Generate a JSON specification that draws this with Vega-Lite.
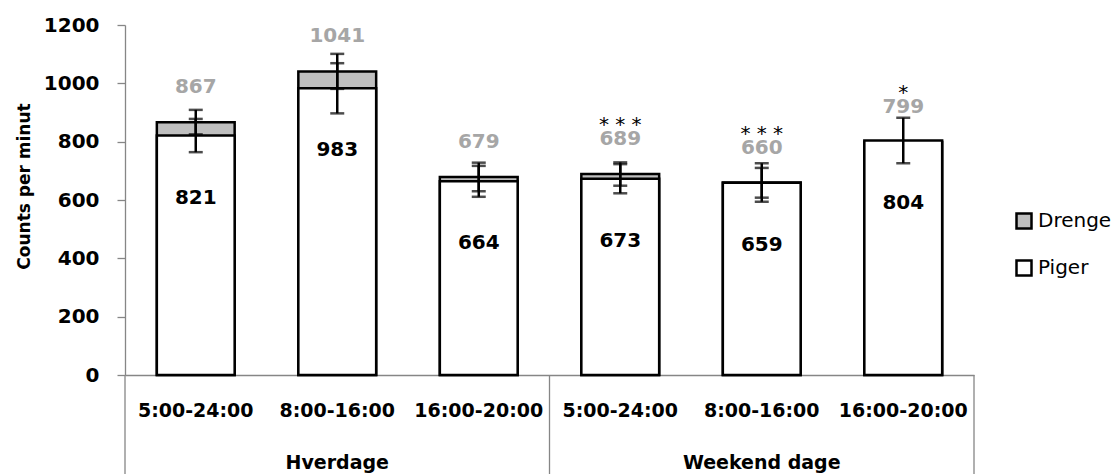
{
  "$schema": "https://vega.github.io/schema/vega-lite/v6.json",
  "width": 849,
  "height": 350,
  "autosize": {"type": "none"},
  "padding": {"left": 125, "top": 25, "right": 142, "bottom": 99},
  "background": "white",
  "config": {"view": {"stroke": null}, "font": "DejaVu Sans"},
  "data": {
    "values": [
      {"periode": "Hverdage|5:00-24:00", "dag": "Hverdage", "tid": "5:00-24:00", "sex": "Drenge", "value": 867, "err": 42, "sig": ""},
      {"periode": "Hverdage|5:00-24:00", "dag": "Hverdage", "tid": "5:00-24:00", "sex": "Piger", "value": 821, "err": 57, "sig": ""},
      {"periode": "Hverdage|8:00-16:00", "dag": "Hverdage", "tid": "8:00-16:00", "sex": "Drenge", "value": 1041, "err": 60, "sig": ""},
      {"periode": "Hverdage|8:00-16:00", "dag": "Hverdage", "tid": "8:00-16:00", "sex": "Piger", "value": 983, "err": 86, "sig": ""},
      {"periode": "Hverdage|16:00-20:00", "dag": "Hverdage", "tid": "16:00-20:00", "sex": "Drenge", "value": 679, "err": 49, "sig": ""},
      {"periode": "Hverdage|16:00-20:00", "dag": "Hverdage", "tid": "16:00-20:00", "sex": "Piger", "value": 664, "err": 53, "sig": ""},
      {"periode": "Weekend dage|5:00-24:00", "dag": "Weekend dage", "tid": "5:00-24:00", "sex": "Drenge", "value": 689, "err": 40, "sig": "* * *"},
      {"periode": "Weekend dage|5:00-24:00", "dag": "Weekend dage", "tid": "5:00-24:00", "sex": "Piger", "value": 673, "err": 50, "sig": ""},
      {"periode": "Weekend dage|8:00-16:00", "dag": "Weekend dage", "tid": "8:00-16:00", "sex": "Drenge", "value": 660, "err": 66, "sig": "* * *"},
      {"periode": "Weekend dage|8:00-16:00", "dag": "Weekend dage", "tid": "8:00-16:00", "sex": "Piger", "value": 659, "err": 51, "sig": ""},
      {"periode": "Weekend dage|16:00-20:00", "dag": "Weekend dage", "tid": "16:00-20:00", "sex": "Drenge", "value": 799, "err": null, "sig": "*"},
      {"periode": "Weekend dage|16:00-20:00", "dag": "Weekend dage", "tid": "16:00-20:00", "sex": "Piger", "value": 804, "err": 78, "sig": ""}
    ]
  },
  "encoding": {
    "x": {
      "field": "periode",
      "type": "nominal",
      "sort": null,
      "title": null,
      "scale": {"paddingInner": 0, "paddingOuter": 0},
      "axis": {
        "domainColor": "#868686",
        "domainWidth": 1.3,
        "ticks": false,
        "labelAngle": 0,
        "labelFont": "DejaVu Sans",
        "labelFontSize": 19,
        "labelFontWeight": "bold",
        "labelColor": "black",
        "labelPadding": 26,
        "labelLineHeight": 52,
        "labelOverlap": false,
        "labelBound": false,
        "labelExpr": "indexof(datum.label, '|8:00') > 0 ? [split(datum.label, '|')[1], split(datum.label, '|')[0]] : split(datum.label, '|')[1]"
      }
    },
    "y": {
      "field": "value",
      "type": "quantitative",
      "stack": null,
      "scale": {"domain": [0, 1200]},
      "axis": {
        "title": "Counts per minut",
        "titleFont": "DejaVu Sans",
        "titleFontSize": 17,
        "titleFontWeight": "bold",
        "titleColor": "black",
        "titlePadding": 10,
        "titleY": 161,
        "values": [0, 200, 400, 600, 800, 1000, 1200],
        "format": "d",
        "grid": false,
        "domainColor": "#868686",
        "domainWidth": 1.3,
        "tickColor": "#868686",
        "tickWidth": 1.3,
        "tickSize": 8,
        "labelFont": "DejaVu Sans",
        "labelFontSize": 20,
        "labelFontWeight": "bold",
        "labelColor": "black",
        "labelPadding": 18
      }
    }
  },
  "layer": [
    {
      "mark": {"type": "bar", "stroke": "black", "strokeWidth": 2.5, "width": {"band": 0.55}},
      "encoding": {
        "fill": {
          "field": "sex",
          "type": "nominal",
          "scale": {"domain": ["Drenge", "Piger"], "range": ["#bfbfbf", "#ffffff"]},
          "legend": {
            "title": null,
            "orient": "none",
            "legendX": 889,
            "legendY": 186,
            "padding": 0,
            "symbolType": "square",
            "symbolSize": 225,
            "symbolStrokeColor": "black",
            "symbolStrokeWidth": 2.5,
            "labelFont": "DejaVu Sans",
            "labelFontSize": 20,
            "labelColor": "black",
            "labelOffset": 4,
            "rowPadding": 21
          }
        },
        "order": {"field": "sex"}
      }
    },
    {
      "transform": [{"filter": "isValid(datum.err)"}],
      "mark": {
        "type": "errorbar",
        "color": "black",
        "rule": {"strokeWidth": 2.5},
        "ticks": {"size": 14, "thickness": 2.5}
      },
      "encoding": {
        "y": {"field": "value", "type": "quantitative"},
        "yError": {"field": "err"}
      }
    },
    {
      "transform": [{"filter": "datum.sex == 'Piger' && datum.tid == '5:00-24:00'"}],
      "mark": {"type": "rule", "color": "#868686", "strokeWidth": 1.3},
      "encoding": {
        "x": {"field": "periode", "type": "nominal", "sort": null, "title": null, "bandPosition": 0},
        "y": {"datum": 0},
        "y2": {"datum": -340}
      }
    },
    {
      "transform": [{"filter": "datum.sex == 'Piger' && datum.dag == 'Weekend dage' && datum.tid == '16:00-20:00'"}],
      "mark": {"type": "rule", "color": "#868686", "strokeWidth": 1.3},
      "encoding": {
        "x": {"field": "periode", "type": "nominal", "sort": null, "title": null, "bandPosition": 1},
        "y": {"datum": 0},
        "y2": {"datum": -340}
      }
    },
    {
      "transform": [{"filter": "datum.sex == 'Drenge'"}],
      "mark": {"type": "text", "dy": -35, "baseline": "middle", "fontSize": 20, "fontWeight": "bold", "color": "#a6a6a6"},
      "encoding": {"text": {"field": "value", "type": "nominal"}}
    },
    {
      "transform": [{"filter": "datum.sex == 'Piger'"}],
      "mark": {"type": "text", "dy": 62, "baseline": "middle", "fontSize": 20, "fontWeight": "bold", "color": "black"},
      "encoding": {"text": {"field": "value", "type": "nominal"}}
    },
    {
      "transform": [{"filter": "datum.sex == 'Drenge' && datum.sig != ''"}],
      "mark": {"type": "text", "dy": -49, "baseline": "middle", "fontSize": 20, "color": "black"},
      "encoding": {"text": {"field": "sig", "type": "nominal"}}
    }
  ]
}
